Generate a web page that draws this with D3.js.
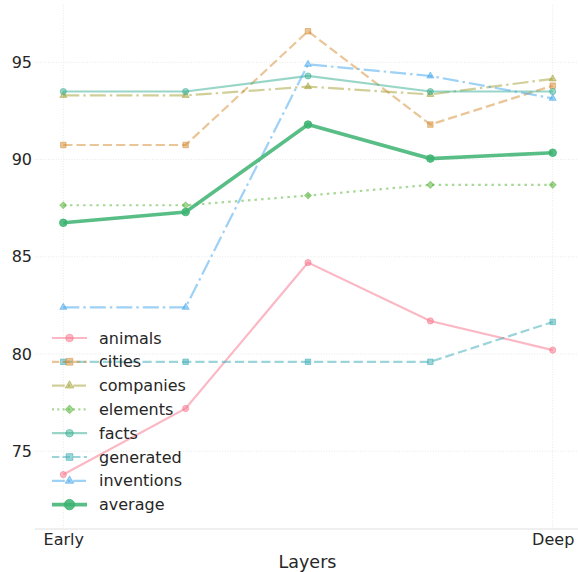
<!DOCTYPE html>
<html>
<head>
<meta charset="utf-8">
<script src="https://cdn.jsdelivr.net/npm/d3@7"></script>
<style>
  body { margin: 0; background: #fff; }
  text { font-family: "DejaVu Sans", sans-serif; fill: #262626; }
</style>
</head>
<body>
<div id="chart"></div>
<script>
// data
const xTickLabels = ["Early", "Deep"];
const yTicks = [75, 80, 85, 90, 95];

const animals   = [73.8, 77.2, 84.7, 81.7, 80.2];
const cities    = [90.75, 90.75, 96.6, 91.8, 93.8];
const companies = [93.3, 93.3, 93.75, 93.35, 94.15];
const elements  = [87.65, 87.65, 88.15, 88.7, 88.7];
const facts     = [93.5, 93.5, 94.3, 93.5, 93.5];
const generated = [79.6, 79.6, 79.6, 79.6, 81.65];
const inventions= [82.4, 82.4, 94.9, 94.3, 93.15];
const average   = [86.75, 87.3, 91.8, 90.05, 90.35];

const dashed = "9.2,4", dashdot = "16,4,2.5,4", dotted = "2.5,4.1";
const series = [
  {name: "animals",    values: animals,    color: "#f77189", dash: null,    marker: "circle"},
  {name: "cities",     values: cities,     color: "#d58c32", dash: dashed,  marker: "square"},
  {name: "companies",  values: companies,  color: "#a4a031", dash: dashdot, marker: "triangle"},
  {name: "elements",   values: elements,   color: "#50b131", dash: dotted,  marker: "diamond"},
  {name: "facts",      values: facts,      color: "#34ae91", dash: null,    marker: "circle"},
  {name: "generated",  values: generated,  color: "#37abb5", dash: dashed,  marker: "square"},
  {name: "inventions", values: inventions, color: "#3ba3ec", dash: dashdot, marker: "triangle"},
];

const width = 578, height = 572;
const plot = {left: 35, right: 578, top: 5, bottom: 529};

const svg = d3.select("#chart").append("svg")
  .attr("width", width)
  .attr("height", height);

const x = d3.scaleLinear().domain([0, 4]).range([63.3, 552.7]);
const y = d3.scaleLinear().domain([71, 97.95]).range([plot.bottom, plot.top]);

// grid
svg.append("g").selectAll("line").data(yTicks).join("line")
  .attr("x1", plot.left).attr("x2", plot.right)
  .attr("y1", d => y(d)).attr("y2", d => y(d))
  .attr("stroke", "#e3e3e3").attr("stroke-width", 0.8)
  .attr("stroke-dasharray", "1,1.6");
svg.append("g").selectAll("line").data([0, 4]).join("line")
  .attr("x1", d => x(d)).attr("x2", d => x(d))
  .attr("y1", plot.top).attr("y2", plot.bottom)
  .attr("stroke", "#e3e3e3").attr("stroke-width", 0.8)
  .attr("stroke-dasharray", "1,1.6");

// bottom spine
svg.append("line")
  .attr("x1", plot.left).attr("x2", plot.right)
  .attr("y1", plot.bottom).attr("y2", plot.bottom)
  .attr("stroke", "#e0e0e0").attr("stroke-width", 1.2);

// axes
const yAxis = svg.append("g")
  .attr("transform", `translate(${plot.left},0)`)
  .call(d3.axisLeft(y).tickValues(yTicks).tickSize(0).tickPadding(3));
yAxis.select(".domain").remove();
yAxis.selectAll("text").style("font-size", "16px").style("font-family", "DejaVu Sans").attr("fill", "#262626");

const xAxis = svg.append("g")
  .attr("transform", `translate(0,${plot.bottom})`)
  .call(d3.axisBottom(x).tickValues([0, 4]).tickSize(0).tickPadding(5)
    .tickFormat((d, i) => xTickLabels[i]));
xAxis.select(".domain").remove();
xAxis.selectAll("text").style("font-size", "16px").style("font-family", "DejaVu Sans").attr("fill", "#262626");

svg.append("text")
  .attr("x", (plot.left + plot.right) / 2 + 1)
  .attr("y", 568)
  .attr("text-anchor", "middle")
  .style("font-size", "17.5px")
  .text("Layers");

// marker shapes
const symbolFor = {
  circle: d3.symbolCircle,
  square: d3.symbolSquare,
  triangle: d3.symbolTriangle,
  diamond: d3.symbolSquare
};
const sizeScale = {circle: 1, square: 1, triangle: 0.7, diamond: 0.75};
function drawMarker(g, kind, cx, cy, size, color, opacity) {
  const s = d3.symbol().type(symbolFor[kind]).size(size * sizeScale[kind]);
  return g.append("path")
    .attr("d", s())
    .attr("transform", `translate(${cx},${cy})` + (kind === "diamond" ? " rotate(45)" : ""))
    .attr("fill", color).attr("fill-opacity", opacity)
    .attr("stroke", color).attr("stroke-opacity", opacity).attr("stroke-width", 1);
}

const line = d3.line()
  .x((d, i) => x(i))
  .y(d => y(d));

const lines = svg.append("g");
series.forEach(s => {
  lines.append("path")
    .datum(s.values)
    .attr("fill", "none")
    .attr("stroke", s.color)
    .attr("stroke-opacity", 0.5)
    .attr("stroke-width", 2.2)
    .attr("stroke-dasharray", s.dash)
    .attr("d", line);
  s.values.forEach((v, i) => drawMarker(lines, s.marker, x(i), y(v), 30, s.color, 0.5));
});

// average
lines.append("path")
  .datum(average)
  .attr("fill", "none")
  .attr("stroke", "#3cb371")
  .attr("stroke-opacity", 0.85)
  .attr("stroke-width", 3.6)
  .attr("d", line);
average.forEach((v, i) => drawMarker(lines, "circle", x(i), y(v), 45, "#3cb371", 0.85));

// legend
const legendItems = series.concat([{name: "average", color: "#3cb371", dash: null, marker: "circle", avg: true}]);
const legend = svg.append("g").attr("transform", "translate(52,338)");
legendItems.forEach((s, i) => {
  const row = legend.append("g").attr("transform", `translate(0,${i * 23.8})`);
  row.append("line")
    .attr("x1", 0).attr("x2", 35)
    .attr("stroke", s.color)
    .attr("stroke-opacity", s.avg ? 0.85 : 0.5)
    .attr("stroke-width", s.avg ? 3.6 : 2.2)
    .attr("stroke-dasharray", s.dash ? s.dash.split(",").map(d => +d * 0.8).join(",") : null);
  drawMarker(row, s.marker, 17.5, 0, s.avg ? 85 : 45, s.color, s.avg ? 0.85 : 0.5);
  row.append("text")
    .attr("x", 47).attr("y", 0)
    .attr("dy", "0.35em")
    .style("font-size", "16px")
    .text(s.name);
});
</script>
</body>
</html>
